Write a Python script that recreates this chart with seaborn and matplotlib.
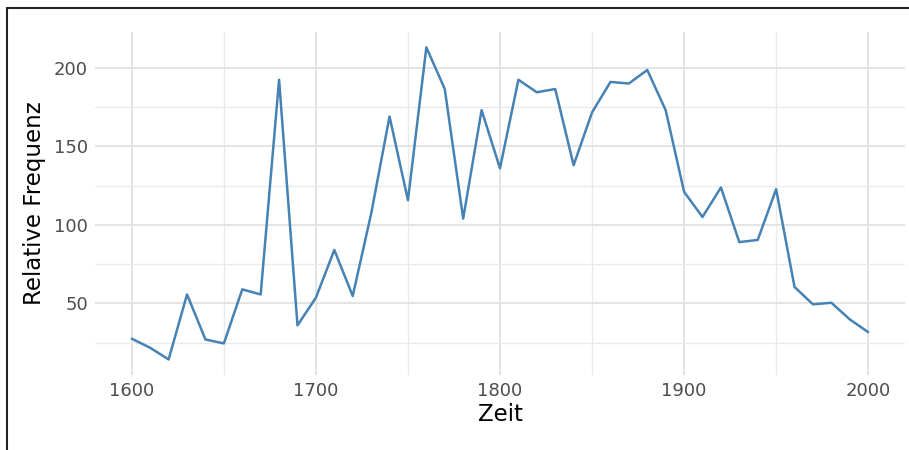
import numpy as np
import pandas as pd
import seaborn as sns
import matplotlib.pyplot as plt
from matplotlib.lines import Line2D

# decades and relative frequency
years = list(range(1600, 2001, 10))
freq = [27.5, 21.7, 14.3, 55.7, 27.0, 24.5, 58.9, 55.7, 192.4, 36.0,
        53.6, 84.0, 54.7, 107.0, 169.0, 115.7, 213.0, 186.5, 104.0, 173.0,
        136.0, 192.4, 184.4, 186.5, 138.0, 171.6, 191.0, 190.0, 198.6, 173.0,
        121.0, 105.0, 123.8, 89.0, 90.4, 122.7, 60.4, 49.4, 50.4, 39.8, 31.7]
x_ticks = [1600, 1700, 1800, 1900, 2000]
y_ticks = [50, 100, 150, 200]

df = pd.DataFrame({'Zeit': years, 'Relative Frequenz': freq})

sns.set_theme(style="whitegrid")
plt.rcParams['font.family'] = ['DejaVu Sans']

fig = plt.figure(figsize=(9.09, 4.5), dpi=100)
ax = fig.add_axes([0.1045, 0.1667, 0.8911, 0.7629])

sns.lineplot(data=df, x='Zeit', y='Relative Frequenz', color='#4682b4', linewidth=1.8, ax=ax)

ax.set_xlim(1580, 2020)
ax.set_ylim(4.4, 223.0)
ax.set_xticks(x_ticks)
ax.set_yticks(y_ticks)
ax.set_xticks([1650, 1750, 1850, 1950], minor=True)
ax.set_yticks([25, 75, 125, 175], minor=True)
ax.grid(which='major', color='#e2e2e2', linewidth=1.3)
ax.grid(which='minor', color='#ebebeb', linewidth=1.0)
ax.tick_params(which='both', length=0, labelsize=13, labelcolor='#4d4d4d', pad=5)
for s in ax.spines.values():
    s.set_visible(False)
ax.set_facecolor('white')
ax.set_xlabel('Zeit', fontsize=16.5, color='black', labelpad=2)
ax.set_ylabel('Relative Frequenz', fontsize=16.5, color='black', labelpad=6)

# frame around the whole figure (top and left edges visible)
fig.add_artist(Line2D([7 / 909, 7 / 909], [0, 1 - 8 / 450], transform=fig.transFigure, color='#222222', linewidth=1.5))
fig.add_artist(Line2D([7 / 909, 1], [1 - 8 / 450, 1 - 8 / 450], transform=fig.transFigure, color='#222222', linewidth=1.5))

fig.savefig('out.png', dpi=100)
plt.close(fig)
